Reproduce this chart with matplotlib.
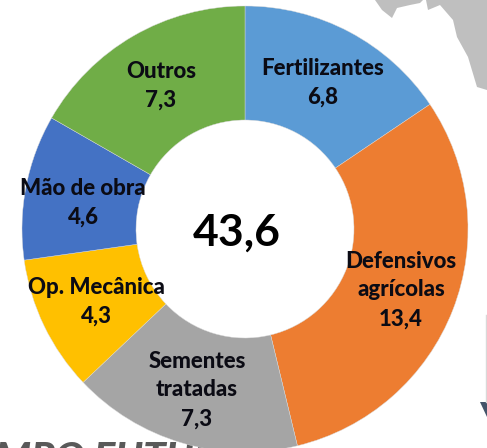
import matplotlib
matplotlib.use("Agg")
import matplotlib.pyplot as plt

labels = ["Fertilizantes", "Defensivos\nagrícolas", "Sementes\ntratadas", "Op. Mecânica", "Mão de obra", "Outros"]
values = [6.8, 13.4, 7.3, 4.3, 4.6, 7.3]
value_text = ["6,8", "13,4", "7,3", "4,3", "4,6", "7,3"]
colors = ["#5B9BD5", "#ED7D31", "#A5A5A5", "#FFC000", "#4472C4", "#70AD47"]
label_xy = [(323, 83), (401, 290), (197, 390), (96, 302), (83, 203), (161, 86)]
total = "43,6"
map_x = [375, 382, 392, 397, 410, 420, 423, 426, 428, 440, 453, 457, 468, 477, 487, 487]
map_y = [0, 10, 18, 8, 5, 3, 0, 0, 10, 5, 20, 37, 57, 87, 90, 0]

plt.rcParams["font.family"] = ["Lato", "DejaVu Sans"]
fig = plt.figure(figsize=(4.87, 4.48), dpi=100)
ax = fig.add_axes([0, 0, 1, 1])

ax.fill(map_x, map_y, color="#BFBFBF", lw=0, zorder=0)
ax.fill([480, 487, 487], [402, 402, 417], color="#44546A", lw=0, zorder=0)
ax.plot([486, 486], [315, 402], color="#D9D9D9", lw=1, zorder=0)

ax.text(-56, 471, "CAMPO FUTURO", ha="left", va="baseline", fontsize=29, fontweight="black",
        style="italic", color="#595959", zorder=0.5)

wedges, _ = ax.pie(values, colors=colors, startangle=270, counterclock=True,
                   center=(245, 229), radius=223, frame=True,
                   wedgeprops=dict(width=114, edgecolor="#D9D9D9", linewidth=0.3))
ax.set_xlim(0, 487)
ax.set_ylim(448, 0)
ax.set_aspect("equal")
ax.axis("off")

for lab, val, (x, y) in zip(labels, value_text, label_xy):
    ax.text(x, y, lab + "\n" + val, ha="center", va="center", fontsize=16,
            fontweight="black", color="#0B0B14", linespacing=1.45, zorder=5)
ax.text(237, 233, total, ha="center", va="center", fontsize=32, fontweight="bold", color="black", zorder=5)
fig.savefig("out.png", dpi=100)
